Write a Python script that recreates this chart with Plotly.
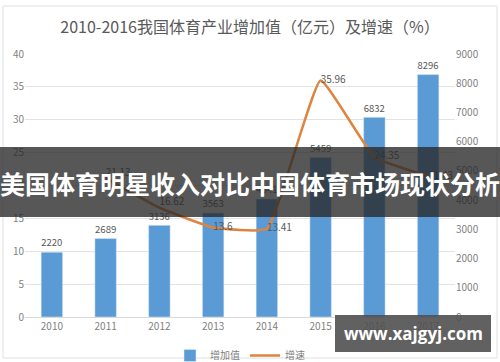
import plotly.graph_objects as go

years = ["2010", "2011", "2012", "2013", "2014", "2015", "2016", "2017"]
added_value = [2220, 2689, 3136, 3563, 4041, 5459, 6832, 8296]
growth_years = ["2011", "2012", "2013", "2014", "2015", "2016", "2017"]
growth = [21.13, 16.62, 13.6, 13.41, 35.96, 24.35, 21.43]
growth_pos = ["top right", "top right", "middle right", "middle right", "middle right", "middle right", "middle right"]

title = "2010-2016我国体育产业增加值（亿元）及增速（%）"
banner = "美国体育明星收入对比中国体育市场现状分析"
watermark = "www.xajgyj.com"

W, H = 500, 362
ml, mr, mt, mb = 25, 45, 54, 45
pw, ph = W - ml - mr, H - mt - mb

def px_x(x):
    return (x - ml) / pw

def px_y(y):
    return (H - mb - y) / ph

FONT = "Noto Sans CJK SC, Liberation Sans, sans-serif"
GRAY = "#7f7f7f"

fig = go.Figure()
fig.add_trace(go.Bar(
    x=years, y=added_value, name="增加值", yaxis="y",
    marker=dict(color="#5B9BD5"),
    text=[str(v) for v in added_value], textposition="outside",
    textfont=dict(size=10, color="#595959", family=FONT),
    cliponaxis=False, showlegend=True,
))
fig.add_trace(go.Scatter(
    x=growth_years, y=growth, name="增速", yaxis="y2",
    mode="lines+text", line=dict(color="#DD8540", width=2.5, shape="spline", smoothing=0.35),
    text=[f"{v:g}" for v in growth], textposition=growth_pos,
    textfont=dict(size=10, color="#595959", family=FONT),
    cliponaxis=False,
))

fig.update_layout(
    width=W, height=H,
    margin=dict(l=ml, r=mr, t=mt, b=mb, autoexpand=False),
    paper_bgcolor="white", plot_bgcolor="white",
    font=dict(family=FONT, color=GRAY, size=10),
    bargap=0.6,
    title=dict(text=title, x=0.5, xanchor="center", y=1 - 27 / H, yanchor="middle",
               font=dict(size=16, color="#595959", family=FONT)),
    xaxis=dict(type="category", showgrid=False, showline=True, linecolor="#d9d9d9",
               ticks="", tickfont=dict(size=10, color=GRAY)),
    yaxis=dict(range=[0, 9000], dtick=1000, side="right", showgrid=False,
               zeroline=False, showline=False, ticks="",
               tickfont=dict(size=10, color=GRAY)),
    yaxis2=dict(range=[0, 40], dtick=5, side="left", overlaying="y",
                showgrid=True, gridcolor="#e3e3e3", gridwidth=1,
                zeroline=False, showline=False, ticks="",
                tickfont=dict(size=10, color=GRAY)),
    legend=dict(orientation="h", x=0.5, xanchor="center", y=px_y(341), yanchor="top",
                font=dict(size=10, color=GRAY), bgcolor="rgba(0,0,0,0)"),
    shapes=[
        dict(type="rect", xref="paper", yref="paper",
             x0=px_x(3), x1=px_x(497), y0=px_y(358), y1=px_y(6),
             line=dict(color="#e0e0e0", width=1), fillcolor="rgba(0,0,0,0)", layer="below"),
        dict(type="rect", xref="paper", yref="paper",
             x0=px_x(0), x1=px_x(500), y0=px_y(217), y1=px_y(147),
             line=dict(width=0), fillcolor="rgba(40,40,40,0.78)", layer="above"),
        dict(type="rect", xref="paper", yref="paper",
             x0=px_x(335), x1=px_x(491), y0=px_y(352), y1=px_y(315),
             line=dict(width=0), fillcolor="rgba(80,80,80,0.9)", layer="above"),
    ],
    annotations=[
        dict(text=f"<b>{banner}</b>", xref="paper", yref="paper",
             x=px_x(250), y=px_y(183), xanchor="center", yanchor="middle",
             showarrow=False, font=dict(size=25, color="white", family=FONT)),
        dict(text=f"<b>{watermark}</b>", xref="paper", yref="paper",
             x=px_x(413), y=px_y(333), xanchor="center", yanchor="middle",
             showarrow=False, font=dict(size=17, color="white", family="Open Sans, DejaVu Sans, sans-serif")),
    ],
)

fig.write_html("out.html", config={"displayModeBar": False},
               post_script="document.body.style.margin='0';document.body.style.overflow='hidden';")
